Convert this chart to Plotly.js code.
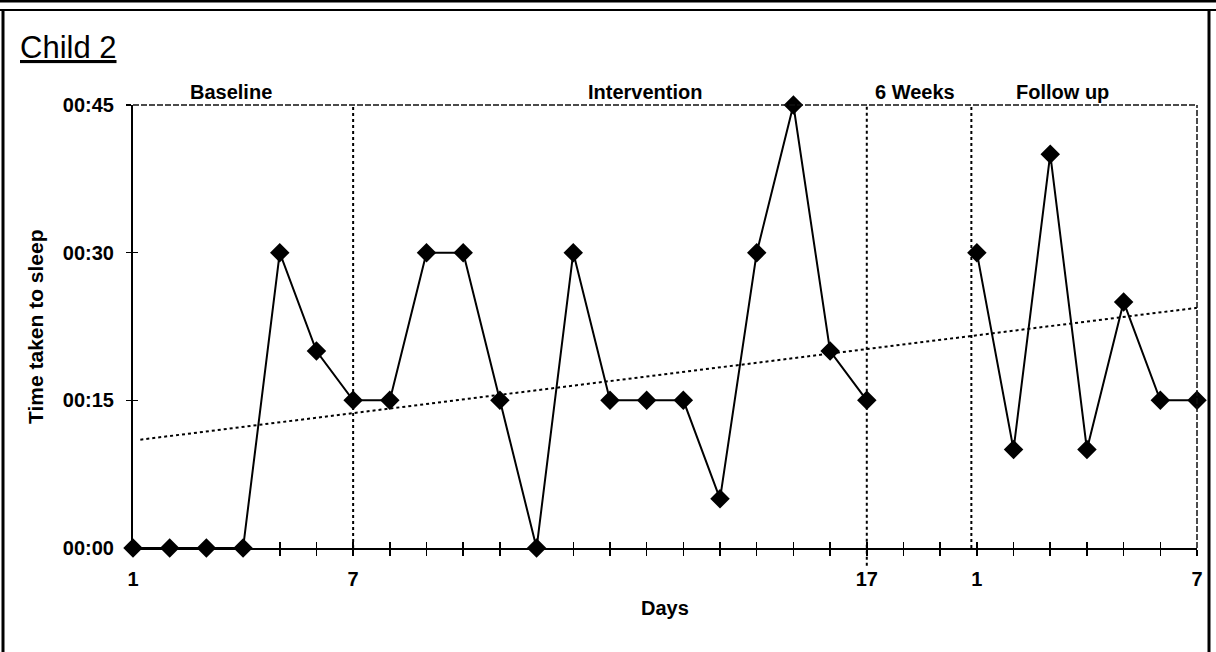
<!DOCTYPE html>
<html>
<head>
<meta charset="utf-8">
<script src="https://cdn.plot.ly/plotly-3.0.1.min.js"></script>
<style>html,body{margin:0;padding:0;background:#fff;}#chart{width:1216px;height:652px;}</style>
</head>
<body>
<div id="chart"></div>
<script>
// ---- data (minutes taken to fall asleep), one slot per day; null = no session ----
const slots = [0,1,2,3,4,5,6,7,8,9,10,11,12,13,14,15,16,17,18,19,20,21,22,23,24,25,26,27,28,29];
const minutes = [0,0,0,0,30,20,15, 15,30,30,15,0,30,15,15,15,5,30,45,20,15, null,null, 30,10,40,10,25,15,15];
const tickPositions = [0,6,20,23,29];
const tickLabels = ["1","7","17","1","7"];
const yTickValues = [0,15,30,45];
const yTickLabels = ["00:00","00:15","00:30","00:45"];
const phaseNames = ["Baseline","Intervention","6 Weeks","Follow up"];
const phaseLines = [6,20,22.85];
const trendX = [0.2,29];
const trendY = [11.0,24.4];

// ---- layout geometry (pixels) ----
const W = 1216, H = 652;
const L = 133, R = 1197, T = 105, B = 548;
const px = v => (v - L) / (R - L);
const py = v => (B - v) / (B - T);
const FONT = '"Liberation Sans", Arial, Helvetica, sans-serif';

const allTickText = slots.map(s => {
  const i = tickPositions.indexOf(s);
  return i >= 0 ? tickLabels[i] : "";
});

const traces = [
  {
    x: trendX, y: trendY, mode: 'lines', type: 'scatter',
    line: {color: '#000', width: 2, dash: 'dot'}, hoverinfo: 'skip', showlegend: false
  },
  {
    x: slots, y: minutes, mode: 'lines+markers', type: 'scatter',
    connectgaps: false, cliponaxis: false,
    line: {color: '#000', width: 2},
    marker: {symbol: 'diamond', size: 15, color: '#000'},
    showlegend: false
  },
  { x: [null], y: [null], xaxis: 'x2', yaxis: 'y2', mode: 'markers', showlegend: false, hoverinfo: 'skip' }
];

const shapes = [];
phaseLines.forEach((v, i) => {
  shapes.push({type: 'line', xref: 'x', yref: 'paper', x0: v, x1: v,
    y0: i === 1 ? -0.04 : 0, y1: 1, line: {color: '#000', width: 2, dash: 'dot'}});
});
// plot frame top and right (dashed, as in the scanned original)
shapes.push({type: 'line', xref: 'paper', yref: 'paper', x0: 0, x1: 1, y0: 1, y1: 1,
  line: {color: '#111', width: 1.5, dash: '6px,2px'}});
shapes.push({type: 'line', xref: 'paper', yref: 'paper', x0: 1, x1: 1, y0: 0, y1: 1,
  line: {color: '#111', width: 1.5, dash: '6px,2px'}});
// outer box of the figure
shapes.push({type: 'line', xref: 'paper', yref: 'paper', x0: px(0), x1: px(W), y0: py(1), y1: py(1),
  line: {color: '#000', width: 3}});
shapes.push({type: 'line', xref: 'paper', yref: 'paper', x0: px(0), x1: px(W), y0: py(10), y1: py(10),
  line: {color: '#000', width: 2}});
shapes.push({type: 'line', xref: 'paper', yref: 'paper', x0: px(3), x1: px(3), y0: py(10), y1: py(H + 5),
  line: {color: '#000', width: 3}});
shapes.push({type: 'line', xref: 'paper', yref: 'paper', x0: px(1209), x1: px(1209), y0: py(10), y1: py(H + 5),
  line: {color: '#000', width: 3}});

const phaseCenters = [231, 645, 915, 1062];
const annotations = phaseNames.map((n, i) => ({
  text: n, xref: 'paper', yref: 'paper', x: px(phaseCenters[i]), y: py(92),
  xanchor: 'center', yanchor: 'middle', showarrow: false,
  font: {family: FONT, size: 20, color: '#000', weight: 'bold'}
}));
annotations.push({
  text: '<u>Child 2</u>', xref: 'paper', yref: 'paper', x: px(18), y: py(48),
  xanchor: 'left', yanchor: 'middle', showarrow: false,
  font: {family: FONT, size: 31, color: '#000'}
});
annotations.push({
  text: 'Time taken to sleep', xref: 'paper', yref: 'paper', x: px(35), y: py(327),
  xanchor: 'center', yanchor: 'middle', textangle: -90, showarrow: false,
  font: {family: FONT, size: 21, color: '#000', weight: 'bold'}
});
annotations.push({
  text: 'Days', xref: 'paper', yref: 'paper', x: px(665), y: py(608),
  xanchor: 'center', yanchor: 'middle', showarrow: false,
  font: {family: FONT, size: 20, color: '#000', weight: 'bold'}
});

const layout = {
  width: W, height: H,
  margin: {l: L, r: W - R, t: T, b: H - B, pad: 0},
  paper_bgcolor: '#fff', plot_bgcolor: '#fff',
  showlegend: false,
  font: {family: FONT, color: '#000'},
  xaxis: {
    range: [0, 29], showgrid: false, zeroline: false,
    showline: true, linecolor: '#000', linewidth: 2,
    tickmode: 'array', tickvals: slots, ticktext: allTickText,
    ticks: 'outside', ticklen: 6, tickwidth: 1.5, tickcolor: '#000',
    ticklabelstandoff: 6,
    tickfont: {family: FONT, size: 20, color: '#000', weight: 'bold'}
  },
  yaxis: {
    range: [0, 45], showgrid: false, zeroline: false,
    showline: true, linecolor: '#000', linewidth: 2,
    tickmode: 'array', tickvals: yTickValues, ticktext: yTickLabels,
    ticks: 'outside', ticklen: 5, tickwidth: 1.5, tickcolor: '#000',
    ticklabelstandoff: 8,
    tickfont: {family: FONT, size: 20, color: '#000', weight: 'bold'}
  },
  xaxis2: {
    overlaying: 'x', anchor: 'y2', range: [0, 29], showgrid: false, zeroline: false,
    showline: false, tickmode: 'array', tickvals: slots, showticklabels: false,
    ticks: 'inside', ticklen: 6, tickwidth: 1.5, tickcolor: '#000'
  },
  yaxis2: {
    overlaying: 'y', anchor: 'x2', range: [0, 45], showgrid: false, zeroline: false,
    showline: false, tickmode: 'array', tickvals: yTickValues, showticklabels: false,
    ticks: 'inside', ticklen: 5, tickwidth: 1.5, tickcolor: '#000'
  },
  shapes: shapes,
  annotations: annotations
};

Plotly.newPlot('chart', traces, layout, {staticPlot: true, displayModeBar: false});
</script>
</body>
</html>
